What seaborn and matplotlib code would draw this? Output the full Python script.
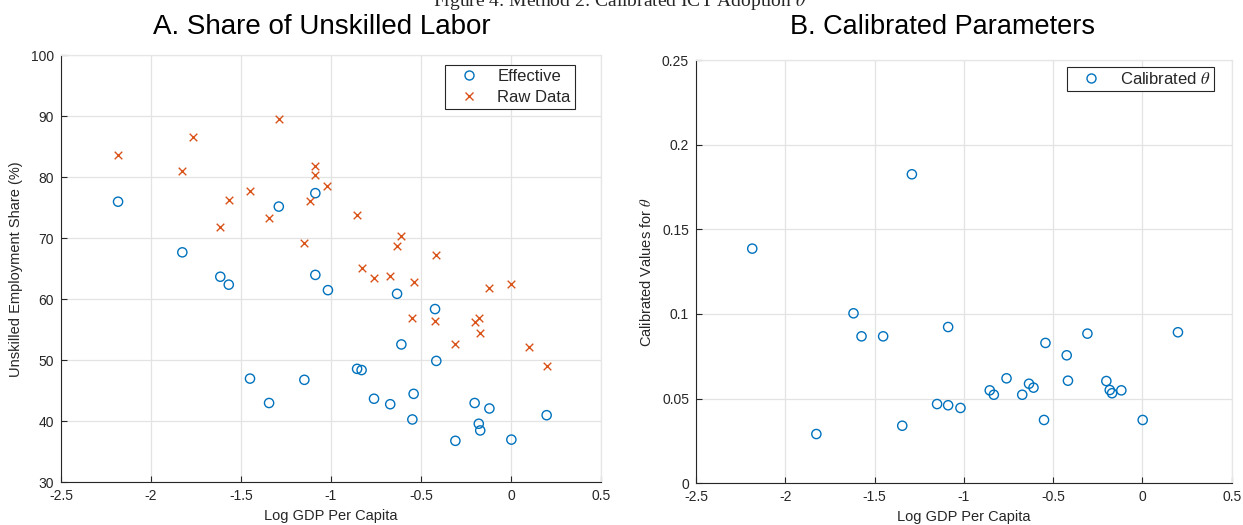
import matplotlib
matplotlib.use("Agg")
import matplotlib.pyplot as plt
import seaborn as sns
import pandas as pd
from matplotlib.lines import Line2D

# ---- data ----
eff_x = [-2.183, -1.826, -1.615, -1.568, -1.450, -1.344, -1.290, -1.148, -1.087, -1.087,
         -1.017, -0.855, -0.830, -0.761, -0.671, -0.633, -0.609, -0.548, -0.541, -0.422,
         -0.415, -0.309, -0.202, -0.179, -0.171, -0.120, 0.002, 0.198]
eff_y = [76.0, 67.7, 63.7, 62.4, 47.0, 43.0, 75.2, 46.8, 77.4, 64.0,
         61.5, 48.6, 48.4, 43.7, 42.8, 60.9, 52.6, 40.3, 44.5, 58.4,
         49.9, 36.8, 43.0, 39.6, 38.5, 42.1, 37.0, 41.0]

raw_x = [-2.183, -1.826, -1.767, -1.615, -1.568, -1.450, -1.344, -1.290, -1.148, -1.117,
         -1.087, -1.087, -1.020, -0.857, -0.830, -0.761, -0.671, -0.633, -0.609, -0.548,
         -0.541, -0.422, -0.415, -0.309, -0.202, -0.179, -0.171, -0.120, 0.002, 0.100, 0.198]
raw_y = [83.7, 81.0, 86.6, 71.8, 76.3, 77.7, 73.4, 89.6, 69.2, 76.1,
         81.9, 80.4, 78.6, 73.9, 65.1, 63.5, 63.8, 68.7, 70.3, 56.9,
         62.9, 56.4, 67.2, 52.6, 56.2, 56.9, 54.4, 61.8, 62.5, 52.2, 49.0]

theta_x = [-2.185, -1.826, -1.618, -1.573, -1.452, -1.345, -1.291, -1.150, -1.088, -1.088,
           -1.019, -0.855, -0.832, -0.761, -0.673, -0.635, -0.610, -0.551, -0.543, -0.424,
           -0.417, -0.308, -0.202, -0.183, -0.170, -0.118, 0.0015, 0.199]
theta_y = [0.1386, 0.0291, 0.1004, 0.0868, 0.0868, 0.0340, 0.1825, 0.0468, 0.0923, 0.0461,
           0.0445, 0.0549, 0.0523, 0.0620, 0.0523, 0.0588, 0.0565, 0.0374, 0.0829, 0.0756,
           0.0606, 0.0884, 0.0604, 0.0551, 0.0532, 0.0549, 0.0374, 0.0892]

x_ticks = [-2.5, -2, -1.5, -1, -0.5, 0, 0.5]
x_ticklabels = ["-2.5", "-2", "-1.5", "-1", "-0.5", "0", "0.5"]
yA_ticks = [30, 40, 50, 60, 70, 80, 90, 100]
yB_ticks = [0, 0.05, 0.1, 0.15, 0.2, 0.25]
yB_ticklabels = ["0", "0.05", "0.1", "0.15", "0.2", "0.25"]

BLUE = "#0072BD"
ORANGE = "#D95319"

sns.set_theme(style="white")
plt.rcParams["font.family"] = ["Liberation Sans", "DejaVu Sans"]
plt.rcParams["axes.unicode_minus"] = False
plt.rcParams["mathtext.fontset"] = "stix"

fig = plt.figure(figsize=(12.43, 5.25), dpi=100)
axA = fig.add_axes([61/1243, (525-482.3)/525, 540/1243, 427/525])
axB = fig.add_axes([696/1243, (525-483.3)/525, 535.7/1243, 423.3/525])

dfA_eff = pd.DataFrame({"x": eff_x, "y": eff_y})
dfA_raw = pd.DataFrame({"x": raw_x, "y": raw_y})
dfB = pd.DataFrame({"x": theta_x, "y": theta_y})

circ_kw = dict(marker="o", s=44, facecolors="none", edgecolors=BLUE, linewidths=1.0, zorder=3)
sns.scatterplot(data=dfA_eff, x="x", y="y", ax=axA, legend=False, **circ_kw)
sns.scatterplot(data=dfA_raw, x="x", y="y", ax=axA, legend=False, marker="x", s=30,
                color=ORANGE, linewidths=1.0, zorder=3)
sns.scatterplot(data=dfB, x="x", y="y", ax=axB, legend=False, **circ_kw)

def style(ax, yticks, yticklabels=None):
    ax.set_xlim(-2.5, 0.5)
    ax.set_xticks(x_ticks)
    ax.set_xticklabels(x_ticklabels)
    ax.set_ylim(yticks[0], yticks[-1])
    ax.set_yticks(yticks)
    if yticklabels is not None:
        ax.set_yticklabels(yticklabels)
    ax.grid(True, color="#e3e3e3", linewidth=0.9)
    ax.set_axisbelow(True)
    for s in ["top", "right"]:
        ax.spines[s].set_color("#e6e6e6")
        ax.spines[s].set_linewidth(0.9)
    for s in ["left", "bottom"]:
        ax.spines[s].set_color("#262626")
        ax.spines[s].set_linewidth(0.8)
    ax.tick_params(axis="both", direction="in", length=4, width=0.8, color="#262626",
                   labelsize=10, labelcolor="#262626", pad=5, left=True, bottom=True)
    ax.set_xlabel("Log GDP Per Capita", fontsize=10.5, color="#262626", labelpad=4)

style(axA, yA_ticks)
style(axB, yB_ticks, yB_ticklabels)
axA.set_ylabel("Unskilled Employment Share (%)", fontsize=10.5, color="#262626", labelpad=6)
axB.set_ylabel(r"Calibrated Values for $\theta$", fontsize=10.5, color="#262626", labelpad=6)

leg_kw = dict(loc="upper right", fontsize=12, frameon=True, fancybox=False,
              edgecolor="#262626", framealpha=1, borderpad=0.25, handlelength=2.4,
              handletextpad=0.5, labelspacing=0.35, borderaxespad=0,
              bbox_transform=fig.transFigure)

hA = [Line2D([], [], ls="none", marker="o", mfc="none", mec=BLUE, ms=6.5, mew=1.0),
      Line2D([], [], ls="none", marker="x", color=ORANGE, ms=6, mew=1.0)]
legA = axA.legend(hA, ["Effective", "Raw Data"],
                  bbox_to_anchor=(575/1243, 1 - 64.7/525), **leg_kw)
legA.get_frame().set_linewidth(0.8)

hB = [Line2D([], [], ls="none", marker="o", mfc="none", mec=BLUE, ms=6.5, mew=1.0)]
legB = axB.legend(hB, [r"Calibrated $\theta$"],
                  bbox_to_anchor=(1214.3/1243, 1 - 66.7/525), **leg_kw)
legB.get_frame().set_linewidth(0.8)

fig.text(322/1243, 1 - 27/525, "A. Share of Unskilled Labor", ha="center", va="center",
         fontsize=20, color="#000000")
fig.text(942.5/1243, 1 - 27/525, "B. Calibrated Parameters", ha="center", va="center",
         fontsize=19.5, color="#000000")
fig.text(620/1243, 1 - 6.5/525, r"Figure 4: Method 2: Calibrated ICT Adoption $\theta$",
         ha="center", va="baseline", fontsize=14, family=["Liberation Serif", "DejaVu Serif"])

fig.savefig("out.png", dpi=100)
